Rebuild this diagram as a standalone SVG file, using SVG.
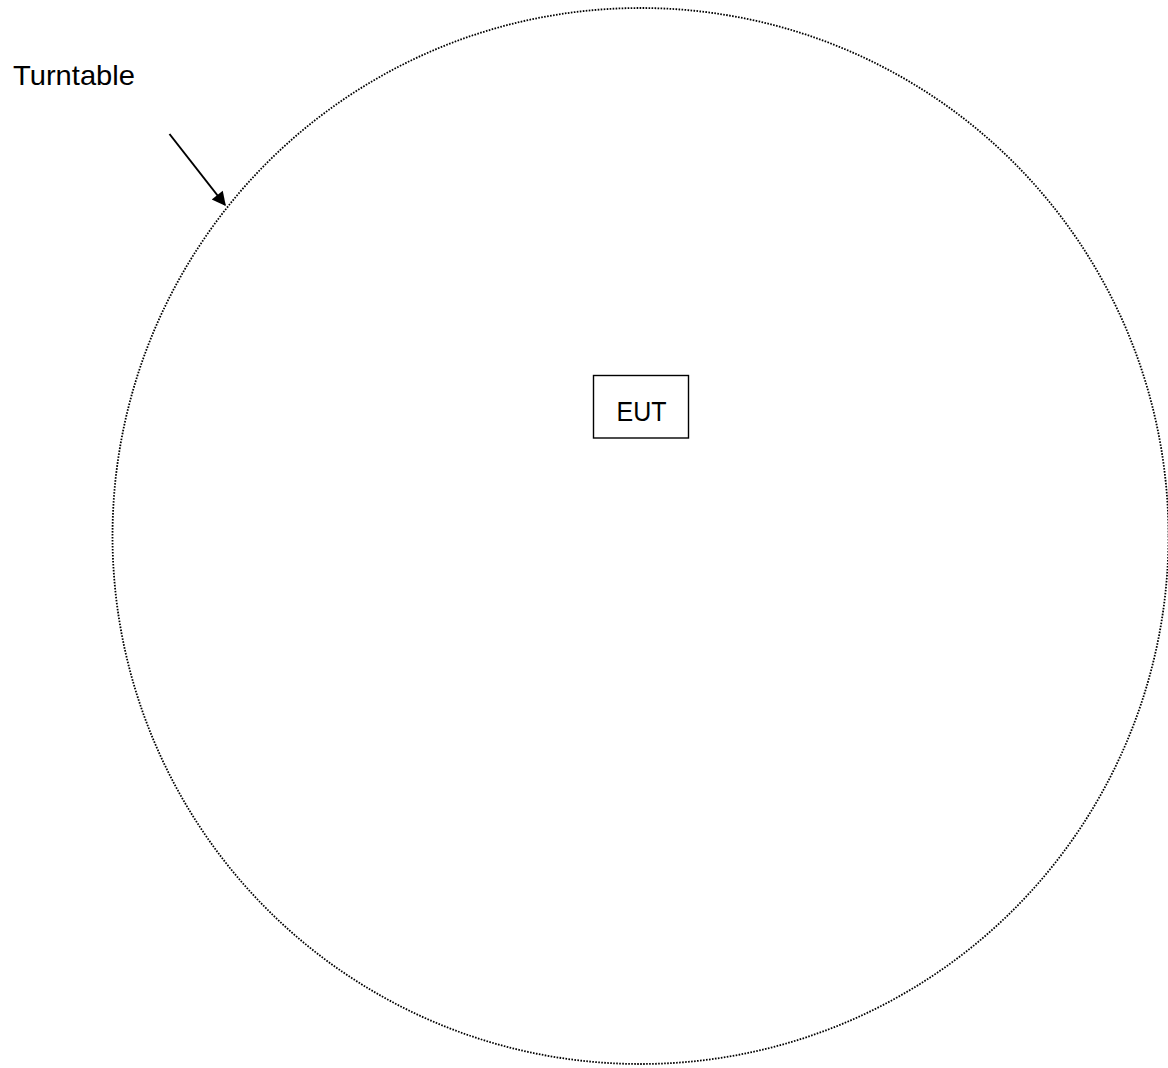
<svg xmlns="http://www.w3.org/2000/svg" width="1168" height="1068" viewBox="0 0 1168 1068">
<defs>
<style>
.lbl{font-family:"Liberation Sans","Open Sans",sans-serif;fill:#000}
</style>
<marker id="ah" viewBox="0 0 10 10" refX="9" refY="5" markerWidth="8" markerHeight="7" orient="auto" markerUnits="strokeWidth">
<path d="M0,0 L10,5 L0,10 z" fill="#000"/>
</marker>
</defs>
<rect width="1168" height="1068" fill="#fff"/>
<g id="turntable">
<circle cx="640.5" cy="536" r="528" fill="none" stroke="#000" stroke-width="1.8" stroke-dasharray="1.6 1.4"/>
</g>
<g id="turntable-label">
<text class="lbl" x="13" y="85" font-size="28" textLength="122" lengthAdjust="spacingAndGlyphs">Turntable</text>
</g>
<g id="eut">
<rect x="593.5" y="375.5" width="95" height="62.5" fill="none" stroke="#000" stroke-width="1.4"/>
<text class="lbl" x="641.5" y="421" font-size="28" text-anchor="middle" textLength="50" lengthAdjust="spacingAndGlyphs">EUT</text>
</g>
<g id="connectors">
<line x1="169.5" y1="134" x2="225" y2="205" stroke="#000" stroke-width="2" marker-end="url(#ah)"/>
</g>
</svg>
